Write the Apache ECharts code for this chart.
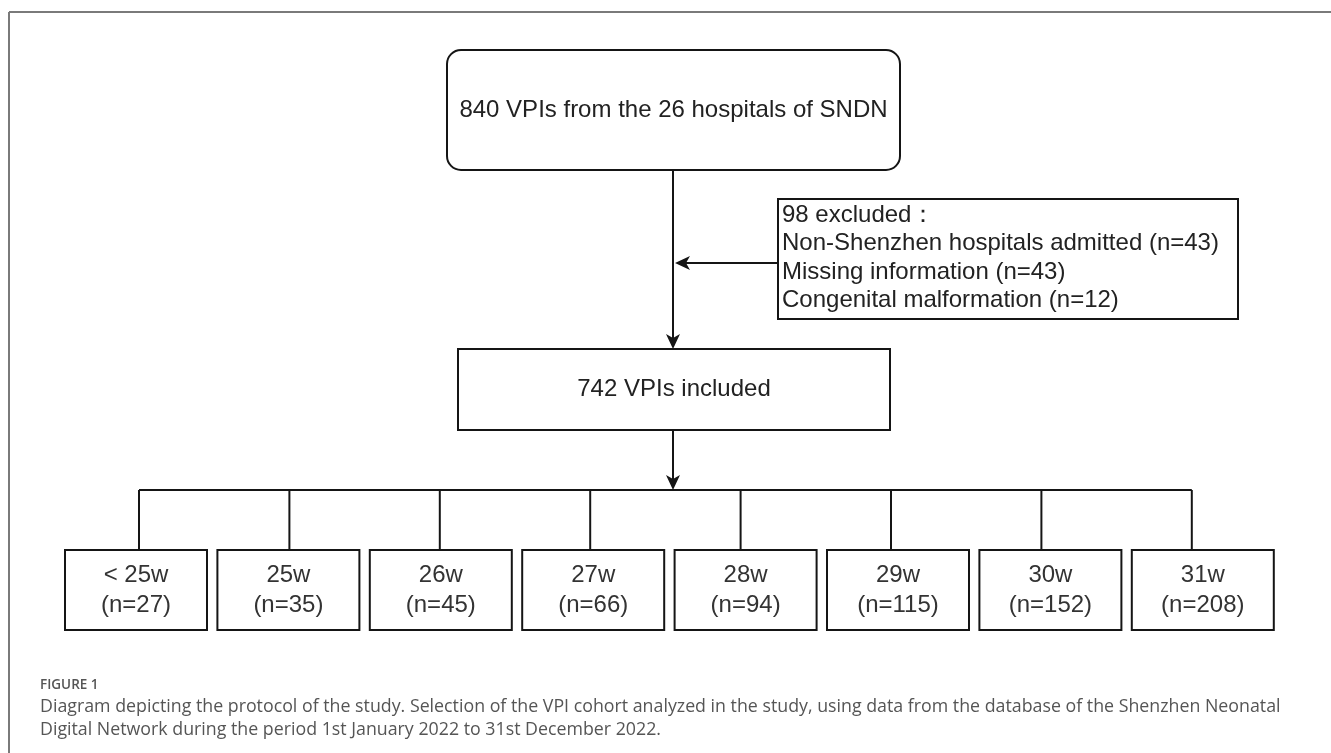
<!DOCTYPE html>
<html><head><meta charset="utf-8">
<script src="https://cdn.jsdelivr.net/npm/echarts@6/dist/echarts.min.js"></script>
<style>html,body{margin:0;padding:0;background:#fff}#chart{width:1331px;height:753px}</style>
</head><body><div id="chart"></div>
<script>
// ---- content ----
const sourceLabel = '840 VPIs from the 26 hospitals of SNDN';
const excludedTitle = '98 excluded：';
const exclusionReasons = ['Non-Shenzhen hospitals admitted', 'Missing information', 'Congenital malformation'];
const exclusionCounts = [43, 43, 12];
const includedLabel = '742 VPIs included';
const weekGroups = ['< 25w', '25w', '26w', '27w', '28w', '29w', '30w', '31w'];
const weekCounts = [27, 35, 45, 66, 94, 115, 152, 208];
const figureLabel = 'FIGURE 1';
const captionLines = [
  'Diagram depicting the protocol of the study. Selection of the VPI cohort analyzed in the study, using data from the database of the Shenzhen Neonatal',
  'Digital Network during the period 1st January 2022 to 31st December 2022.'
];

// ---- layout (pixel units on hidden value axes) ----
const W = 1331, H = 753;
const TOP = {x0: 447, x1: 900, y0: 50, y1: 170, r: 14};
const EXC = {x0: 778, x1: 1238, y0: 199, y1: 319};
const INC = {x0: 458, x1: 890, y0: 349, y1: 430};
const SPINE_X = 673, EXC_ARROW_Y = 263, BRANCH_Y = 490;
const ROW = {y0: 550, y1: 630, left0: 65, step: 152.4, w: 142};
const CONN = {x0: 139, step: 150.4};
const INK = '#151515', TXT = '#222';
const FONT = '"Liberation Sans", Arial, sans-serif';
const CAP_FONT = '"Open Sans", "Noto Sans", sans-serif';

const chart = echarts.init(document.getElementById('chart'), null, {renderer: 'canvas'});

function box(api, b, fill, r) {
  const p0 = api.coord([b.x0, b.y0]), p1 = api.coord([b.x1, b.y1]);
  return {type: 'rect', shape: {x: p0[0], y: p0[1], width: p1[0] - p0[0], height: p1[1] - p0[1], r: r || 0},
    style: {fill: fill, stroke: INK, lineWidth: 2}};
}
function line(api, a, b) {
  const p = api.coord(a), q = api.coord(b);
  return {type: 'line', shape: {x1: p[0], y1: p[1], x2: q[0], y2: q[1]}, style: {stroke: INK, lineWidth: 2}};
}
function arrowHead(api, tip, dir) { // dir: 'down' | 'left'
  const t = api.coord(tip);
  const L = 15, Wd = 7, N = 4;
  let pts;
  if (dir === 'down') pts = [[t[0], t[1]], [t[0] - Wd, t[1] - L], [t[0], t[1] - L + N], [t[0] + Wd, t[1] - L]];
  else pts = [[t[0], t[1]], [t[0] + L, t[1] - Wd], [t[0] + L - N, t[1]], [t[0] + L, t[1] + Wd]];
  return {type: 'polygon', shape: {points: pts}, style: {fill: INK}};
}
function text(api, x, y, str, opt) {
  const p = api.coord([x, y]);
  return {type: 'text', style: Object.assign({x: p[0], y: p[1], text: str, fill: TXT,
    fontSize: 24, fontFamily: FONT, align: 'center', verticalAlign: 'middle'}, opt || {})};
}

const option = {
  animation: false,
  grid: {left: 0, right: 0, top: 0, bottom: 0},
  xAxis: {type: 'value', min: 0, max: W, show: false},
  yAxis: {type: 'value', min: 0, max: H, inverse: true, show: false},
  graphic: [
    {type: 'line', shape: {x1: 9, y1: 12, x2: W, y2: 12}, style: {stroke: '#7a7a7a', lineWidth: 2}},
    {type: 'line', shape: {x1: 9, y1: 12, x2: 9, y2: H}, style: {stroke: '#7a7a7a', lineWidth: 2}},
    {type: 'text', left: 40, top: 678, style: {text: figureLabel, fill: '#555', fontSize: 13.5, fontWeight: 600, fontFamily: CAP_FONT}},
    {type: 'text', left: 40, top: 696, style: {text: captionLines.join('\n'), fill: '#555', fontSize: 17.8, lineHeight: 22.5, fontFamily: CAP_FONT}}
  ],
  series: [
    { // upper flow: source, exclusions, included
      type: 'custom', coordinateSystem: 'cartesian2d', silent: true,
      data: [[0, 0]],
      renderItem: function (params, api) {
        const excl = [excludedTitle].concat(exclusionReasons.map((r, i) => r + ' (n=' + exclusionCounts[i] + ')'));
        return {type: 'group', children: [
          line(api, [SPINE_X, TOP.y1], [SPINE_X, INC.y0 - 4]),
          line(api, [EXC.x0, EXC_ARROW_Y], [SPINE_X + 8, EXC_ARROW_Y]),
          line(api, [SPINE_X, INC.y1], [SPINE_X, BRANCH_Y - 4]),
          box(api, TOP, '#fff', TOP.r),
          text(api, (TOP.x0 + TOP.x1) / 2, (TOP.y0 + TOP.y1) / 2, sourceLabel),
          box(api, EXC, '#fff'),
          text(api, EXC.x0 + 4, (EXC.y0 + EXC.y1) / 2 - 1, excl.join('\n'), {align: 'left', lineHeight: 28.5}),
          box(api, INC, '#fff'),
          text(api, (INC.x0 + INC.x1) / 2, (INC.y0 + INC.y1) / 2, includedLabel),
          arrowHead(api, [SPINE_X, INC.y0], 'down'),
          arrowHead(api, [SPINE_X + 2, EXC_ARROW_Y], 'left'),
          arrowHead(api, [SPINE_X, BRANCH_Y], 'down')
        ]};
      }
    },
    { // branch line
      type: 'custom', coordinateSystem: 'cartesian2d', silent: true,
      data: [[0, 0]],
      renderItem: function (params, api) {
        return line(api, [CONN.x0, BRANCH_Y], [CONN.x0 + CONN.step * (weekGroups.length - 1), BRANCH_Y]);
      }
    },
    { // gestational-age boxes
      type: 'custom', coordinateSystem: 'cartesian2d', silent: true,
      data: weekGroups.map((g, i) => [i, weekCounts[i]]),
      renderItem: function (params, api) {
        const i = api.value(0), n = api.value(1);
        const x0 = ROW.left0 + ROW.step * i, cx = CONN.x0 + CONN.step * i;
        return {type: 'group', children: [
          line(api, [cx, BRANCH_Y], [cx, ROW.y0]),
          box(api, {x0: x0, x1: x0 + ROW.w, y0: ROW.y0, y1: ROW.y1}, '#fff'),
          text(api, x0 + ROW.w / 2, (ROW.y0 + ROW.y1) / 2, weekGroups[i] + '\n(n=' + n + ')', {lineHeight: 30, fill: '#333'})
        ]};
      }
    }
  ]
};
chart.setOption(option);
</script>
</body></html>
